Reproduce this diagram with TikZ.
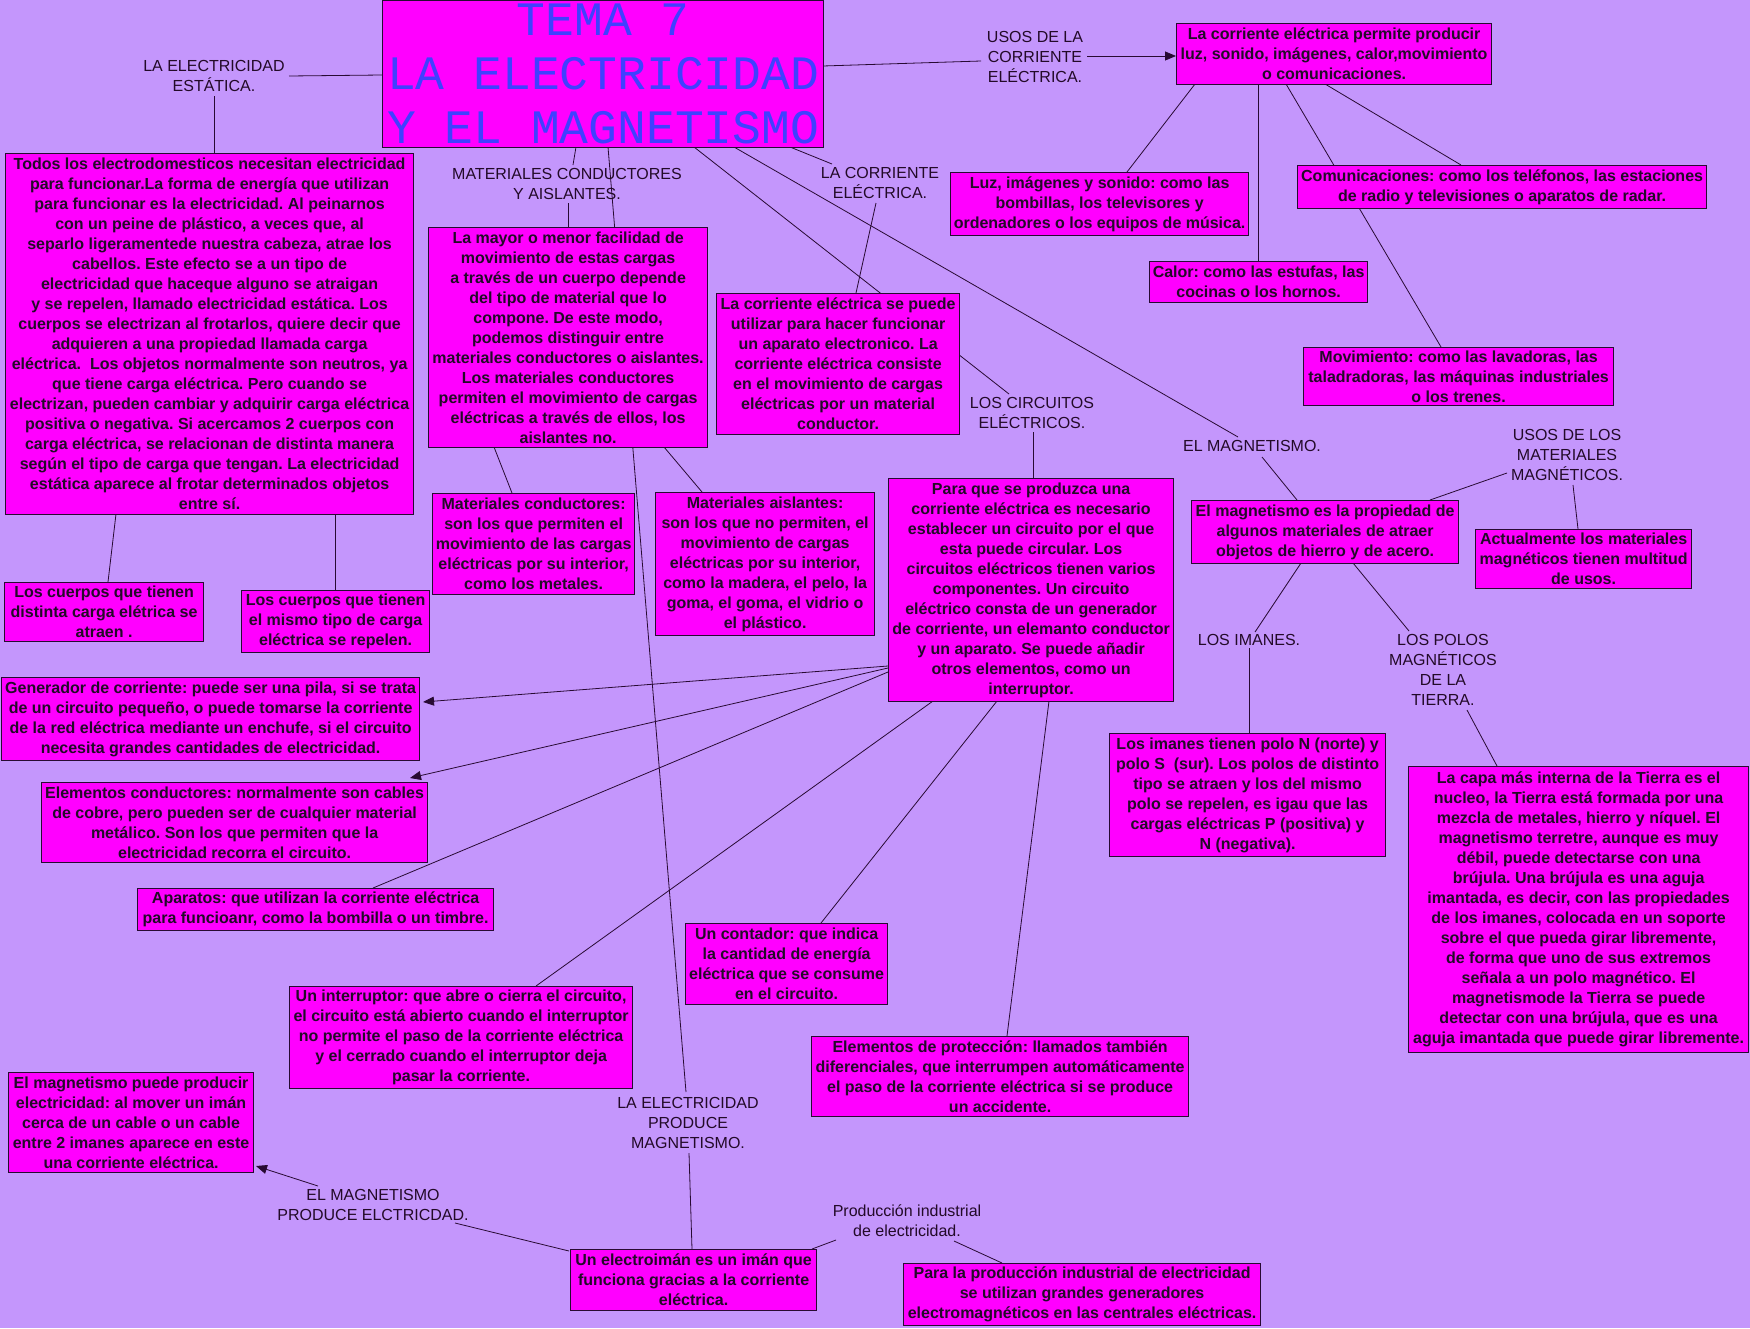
\documentclass[tikz,border=0pt]{standalone}
\usepackage{fontspec}
\setmainfont{Liberation Sans}
\newfontfamily\titlefont{Liberation Mono}
\usetikzlibrary{calc,arrows.meta}
\pgfdeclarelayer{background}
\pgfsetlayers{background,main}
\definecolor{bgcol}{RGB}{196,150,252}
\definecolor{boxcol}{RGB}{255,0,255}
\definecolor{edgecol}{RGB}{40,10,50}
\definecolor{txtcol}{RGB}{35,10,40}
\definecolor{titlecol}{RGB}{64,64,255}
\tikzset{
  box/.style={draw=edgecol, line width=1.2pt, fill=boxcol, anchor=north west, align=center,
    inner sep=1pt, text=txtcol, font=\bfseries\fontsize{16}{20}\selectfont},
  lbl/.style={align=center, inner sep=0pt, text=txtcol, font=\fontsize{16}{20}\selectfont},
  conn/.style={draw=edgecol, line width=0.8pt},
  arrowconn/.style={conn, -{Triangle[length=11pt,width=9pt]}}
}
\newcommand\mybox[6]{\node[box, minimum width=#4pt, minimum height=#5pt] (#1) at (#2,#3) {#6};}
\newcommand\lnk[6]{\draw[conn] ($(#1)+(#2,#3)$) -- ($(#4)+(#5,#6)$);}
\newcommand\lnka[6]{\draw[arrowconn] ($(#1)+(#2,#3)$) -- ($(#4)+(#5,#6)$);}
\begin{document}
\frenchspacing
\begin{tikzpicture}[x=1pt,y=-1pt]
\useasboundingbox (0,0) rectangle (1750,1328);

\node[draw=edgecol, line width=1.2pt, fill=boxcol, anchor=north west, minimum width=441pt,
  minimum height=147pt, inner sep=0pt, align=center, text=titlecol,
  font=\titlefont\fontsize{48}{54}\selectfont] (title) at (382,0) {TEMA 7\\LA ELECTRICIDAD\\Y EL MAGNETISMO};

\mybox{B}{5}{153}{408}{361}{Todos los electrodomesticos necesitan electricidad\\
para funcionar.La forma de energía que utilizan\\
para funcionar es la electricidad. Al peinarnos\\
con un peine de plástico, a veces que, al\\
separlo ligeramentede nuestra cabeza, atrae los\\
cabellos. Este efecto se a un tipo de\\
electricidad que haceque alguno se atraigan\\
y se repelen, llamado electricidad estática. Los\\
cuerpos se electrizan al frotarlos, quiere decir que\\
adquieren a una propiedad llamada carga\\
eléctrica.\ \ Los objetos normalmente son neutros, ya\\
que tiene carga eléctrica. Pero cuando se\\
electrizan, pueden cambiar y adquirir carga eléctrica\\
positiva o negativa. Si acercamos 2 cuerpos con\\
carga eléctrica, se relacionan de distinta manera\\
según el tipo de carga que tengan. La electricidad\\
estática aparece al frotar determinados objetos\\
entre sí.}
\mybox{C}{4}{582}{199}{59}{Los cuerpos que tienen\\distinta carga elétrica se\\atraen .}
\mybox{D}{241}{590}{188}{62}{Los cuerpos que tienen\\el mismo tipo de carga\\eléctrica se repelen.}
\mybox{E}{428}{227}{279}{220}{La mayor o menor facilidad de\\movimiento de estas cargas\\a través de un cuerpo depende\\del tipo de material que lo\\compone. De este modo,\\podemos distinguir entre\\materiales conductores o aislantes.\\Los materiales conductores\\permiten el movimiento de cargas\\eléctricas a través de ellos, los\\aislantes no.}
\mybox{F}{432}{493}{202}{101}{Materiales conductores:\\son los que permiten el\\movimiento de las cargas\\eléctricas por su interior,\\como los metales.}
\mybox{G}{655}{492}{219}{143}{Materiales aislantes:\\son los que no permiten, el\\movimiento de cargas\\eléctricas por su interior,\\como la madera, el pelo, la\\goma, el goma, el vidrio o\\el plástico.}
\mybox{H}{716}{293}{243}{141}{La corriente eléctrica se puede\\utilizar para hacer funcionar\\un aparato electronico. La\\corriente eléctrica consiste\\en el movimiento de cargas\\eléctricas por un material\\conductor.}
\mybox{I}{888}{478}{285}{223}{Para que se produzca una\\corriente eléctrica es necesario\\establecer un circuito por el que\\esta puede circular. Los\\circuitos eléctricos tienen varios\\componentes. Un circuito\\eléctrico consta de un generador\\de corriente, un elemanto conductor\\y un aparato. Se puede añadir\\otros elementos, como un\\interruptor.}
\mybox{N}{1176}{23}{315}{61}{La corriente eléctrica permite producir\\luz, sonido, imágenes, calor,movimiento\\o comunicaciones.}
\mybox{O}{950}{172}{298}{63}{Luz, imágenes y sonido: como las\\bombillas, los televisores y\\ordenadores o los equipos de música.}
\mybox{P}{1149}{261}{218}{41}{Calor: como las estufas, las\\cocinas o los hornos.}
\mybox{Q}{1297}{165}{409}{43}{Comunicaciones: como los teléfonos, las estaciones\\de radio y televisiones o aparatos de radar.}
\mybox{R}{1303}{347}{310}{58}{Movimiento: como las lavadoras, las\\taladradoras, las máquinas industriales\\o los trenes.}
\mybox{J}{1191}{500}{267}{63}{El magnetismo es la propiedad de\\algunos materiales de atraer\\objetos de hierro y de acero.}
\mybox{K}{1475}{529}{216}{59}{Actualmente los materiales\\magnéticos tienen multitud\\de usos.}
\mybox{L}{1109}{733}{276}{123}{Los imanes tienen polo N (norte) y\\polo S\ \ (sur). Los polos de distinto\\tipo se atraen y los del mismo\\polo se repelen, es igau que las\\cargas eléctricas P (positiva) y\\N (negativa).}
\mybox{M}{1408}{766}{340}{286}{La capa más interna de la Tierra es el\\nucleo, la Tierra está formada por una\\mezcla de metales, hierro y níquel. El\\magnetismo terretre, aunque es muy\\débil, puede detectarse con una\\brújula. Una brújula es una aguja\\imantada, es decir, con las propiedades\\de los imanes, colocada en un soporte\\sobre el que pueda girar libremente,\\de forma que uno de sus extremos\\señala a un polo magnético. El\\magnetismode la Tierra se puede\\detectar con una brújula, que es una\\aguja imantada que puede girar libremente.}
\mybox{S}{1}{677}{418}{83}{Generador de corriente: puede ser una pila, si se trata\\de un circuito pequeño, o puede tomarse la corriente\\de la red eléctrica mediante un enchufe, si el circuito\\necesita grandes cantidades de electricidad.}
\mybox{T}{41}{782}{386}{80}{Elementos conductores: normalmente son cables\\de cobre, pero pueden ser de cualquier material\\metálico. Son los que permiten que la\\electricidad recorra el circuito.}
\mybox{U}{137}{888}{356}{42}{Aparatos: que utilizan la corriente eléctrica\\para funcioanr, como la bombilla o un timbre.}
\mybox{V}{289}{986}{343}{102}{Un interruptor: que abre o cierra el circuito,\\el circuito está abierto cuando el interruptor\\no permite el paso de la corriente eléctrica\\y el cerrado cuando el interruptor deja\\pasar la corriente.}
\mybox{W}{685}{923}{202}{81}{Un contador: que indica\\la cantidad de energía\\eléctrica que se consume\\en el circuito.}
\mybox{X}{811}{1036}{377}{80}{Elementos de protección: llamados también\\diferenciales, que interrumpen automáticamente\\el paso de la corriente eléctrica si se produce\\un accidente.}
\mybox{Y}{570}{1249}{246}{61}{Un electroimán es un imán que\\funciona gracias a la corriente\\eléctrica.}
\mybox{Z}{8}{1072}{245}{100}{El magnetismo puede producir\\electricidad: al mover un imán\\cerca de un cable o un cable\\entre 2 imanes aparece en este\\una corriente eléctrica.}
\mybox{AA}{903}{1263}{357}{62}{Para la producción industrial de electricidad\\se utilizan grandes generadores\\electromagnéticos en las centrales eléctricas.}

\node[lbl] (lEst) at (214,76) {LA ELECTRICIDAD\\ESTÁTICA.};
\node[lbl] (lMat) at (567,184) {MATERIALES CONDUCTORES\\Y AISLANTES.};
\node[lbl] (lCorr) at (880,183) {LA CORRIENTE\\ELÉCTRICA.};
\node[lbl] (lUsos) at (1035,57) {USOS DE LA\\CORRIENTE\\ELÉCTRICA.};
\node[lbl] (lCirc) at (1032,413) {LOS CIRCUITOS\\ELÉCTRICOS.};
\node[lbl] (lMag) at (1252,446) {EL MAGNETISMO.};
\node[lbl] (lUsosMag) at (1567,455) {USOS DE LOS\\MATERIALES\\MAGNÉTICOS.};
\node[lbl] (lIman) at (1249,640) {LOS IMANES.};
\node[lbl] (lPolos) at (1443,670) {LOS POLOS\\MAGNÉTICOS\\DE LA\\TIERRA.};
\node[lbl] (lProdMag) at (688,1123) {LA ELECTRICIDAD\\PRODUCE\\MAGNETISMO.};
\node[lbl] (lMagProd) at (373,1205) {EL MAGNETISMO\\PRODUCE ELCTRICDAD.};
\node[lbl] (lInd) at (907,1221) {Producción industrial\\de electricidad.};

\begin{pgfonlayer}{background}
\fill[bgcol] (0,0) rectangle (1750,1328);
\lnk{title.north west}{0}{75}{lEst.center}{75}{0}
\lnk{lEst.center}{0}{20}{B.north west}{209}{0}
\lnk{B.north west}{111}{361}{C.north west}{104}{0}
\lnk{B.north west}{330}{361}{D.north west}{94}{0}
\lnk{title.north west}{226}{147}{lProdMag.center}{-2}{-31}
\lnk{title.north west}{194}{147}{lMat.center}{6}{-19}
\lnk{lMat.center}{1}{19}{E.north west}{140}{0}
\lnk{E.north west}{66}{220}{F.north west}{80}{0}
\lnk{E.north west}{236}{220}{G.north west}{47}{0}
\lnk{title.north west}{408}{147}{lCorr.center}{-48}{-19}
\lnk{lCorr.center}{-4}{20}{H.north west}{140}{0}
\lnk{title.north west}{312}{147}{lCirc.center}{-23}{-19}
\lnk{lCirc.center}{1}{19}{I.north west}{145}{0}
\lnk{title.north west}{352}{147}{lMag.center}{-14}{-9}
\lnk{lMag.center}{10}{11}{J.north west}{106}{0}
\lnk{J.north west}{239}{0}{lUsosMag.center}{-60}{18}
\lnk{lUsosMag.center}{6}{30}{K.north west}{103}{0}
\lnk{J.north west}{110}{63}{lIman.center}{6}{-8}
\lnk{J.north west}{162}{63}{lPolos.center}{-34}{-39}
\lnk{lIman.center}{0}{8}{L.north west}{140}{0}
\lnk{lPolos.center}{24}{40}{M.north west}{89}{0}
\lnk{title.north west}{441}{66}{lUsos.center}{-54}{4}
\lnka{lUsos.center}{52}{-1}{N.north west}{0}{33}
\lnk{N.north west}{19}{61}{O.north west}{177}{0}
\lnk{N.north west}{82}{61}{P.north west}{109}{0}
\lnk{N.north west}{110}{61}{R.north west}{138}{0}
\lnk{N.north west}{149}{61}{Q.north west}{164}{0}
\lnka{I.north west}{0}{188}{S.north west}{422}{25}
\lnka{I.north west}{0}{190}{T.north west}{369}{-4}
\lnk{I.north west}{0}{194}{U.north west}{236}{0}
\lnk{I.north west}{45}{223}{V.north west}{247}{0}
\lnk{I.north west}{109}{223}{W.north west}{136}{0}
\lnk{I.north west}{161}{223}{X.north west}{196}{0}
\lnk{lProdMag.center}{1}{30}{Y.north west}{122}{0}
\lnk{Y.north west}{-1}{2}{lMagProd.center}{82}{18}
\lnka{lMagProd.center}{-55}{-19}{Z.north west}{248}{94}
\lnk{Y.north west}{242}{0}{lInd.center}{-71}{19}
\lnk{lInd.center}{47}{20}{AA.north west}{99}{0}
\end{pgfonlayer}
\end{tikzpicture}
\end{document}
